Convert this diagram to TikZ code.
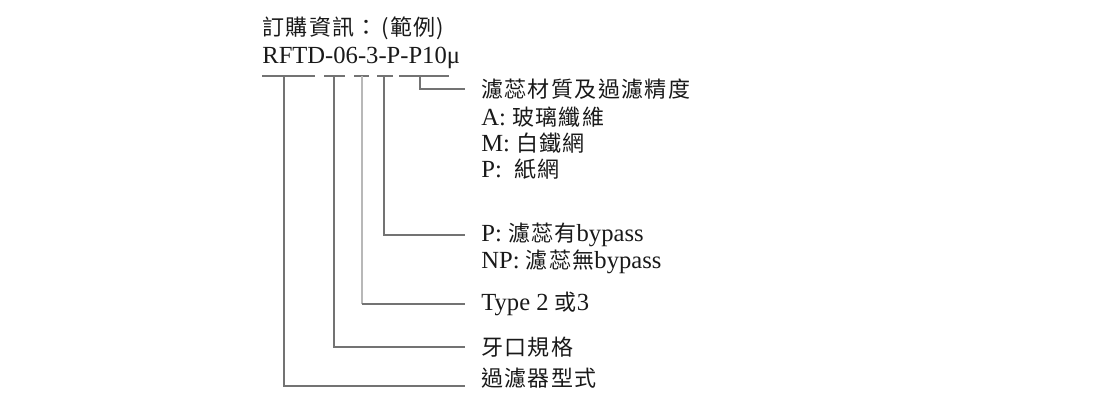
\documentclass[tikz,border=0pt]{standalone}
\usepackage{fontspec}
\setmainfont{Liberation Serif}
\newfontfamily\cjk[Scale=0.895, LetterSpace=6]{Noto Sans CJK TC}
\usetikzlibrary{positioning}

\begin{document}
\begin{tikzpicture}[x=0.02cm, y=-0.02cm,
      txt/.style={anchor=west, inner sep=0pt, font=\fontsize{14}{17}\selectfont, text=black!90},
      lbl/.style={txt, inner xsep=0.32cm},
      lead/.style={draw=black!55, line width=0.6pt},
      leadlight/.style={draw=black!28, line width=0.6pt},
    ]
    \useasboundingbox (0,0) rectangle (1100,418);

    % Nodes
    \node[txt] (title) at (262,28) {\cjk 訂購資訊：\,(範例)};
    \node[txt] (code) at (262,58) {RFTD-06-3-P-P10μ};

    \node[lbl] (media) at (465,89) {\cjk 濾蕊材質及過濾精度};
    \node[txt] (glass) at (481,117) {A: {\cjk 玻璃纖維}};
    \node[txt] (steel) at (481,143) {M: {\cjk 白鐵網}};
    \node[txt] (paper) at (481,169) {P:\ \ {\cjk 紙網}};

    \node[lbl] (bypass) at (465,235) {P: {\cjk 濾蕊有}bypass};
    \node[txt] (nobypass) at (481,262) {NP: {\cjk 濾蕊無}bypass};
    \node[lbl] (type) at (465,304) {Type 2 {\cjk 或}3};
    \node[lbl] (thread) at (465,347) {\cjk 牙口規格};
    \node[lbl] (model) at (465,378) {\cjk 過濾器型式};

    % Underlines
    \draw[lead] (262,76) -- (315,76) (324,76) -- (345,76) (354,76) -- (369,76)
      (377,76) -- (393,76) (399,76) -- (449,76);
    \coordinate (t1) at (284,76);
    \coordinate (t2) at (334,76);
    \coordinate (t3) at (362,76);
    \coordinate (t4) at (384,76);
    \coordinate (t5) at (420,76);

    % Leaders
    \draw[lead] (t5) |- (media.west);
    \draw[lead] (t4) |- (bypass.west);
    \draw[leadlight] (t3) -- (t3 |- type.west);
    \draw[lead] (t3 |- type.west) -- (type.west);
    \draw[lead] (t2) |- (thread.west);
    \draw[lead] (t1) |- ([yshift=-0.16cm]model.west);
  \end{tikzpicture}
\end{document}
